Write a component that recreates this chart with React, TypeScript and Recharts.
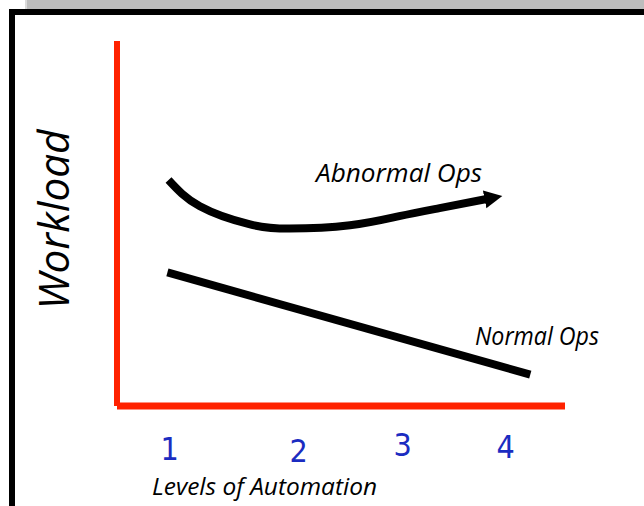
import { LineChart, Line, XAxis, YAxis } from "recharts";

// automation level (x) vs workload (y, 0-10)
const abnormalLevel = [0.99, 1.27, 1.71, 2.07, 2.61, 3.05, 3.41, 3.83];
const abnormalLoad = [6.19, 5.47, 4.98, 4.86, 4.95, 5.2, 5.42, 5.67];
const normalLevel = [0.98, 4.22];
const normalLoad = [3.66, 0.86];
const levelTicks = [1, 2, 3, 4];
const tickLabels = ["1", "2", "3", "4"];

const abnormalData = abnormalLevel.map((level, i) => ({ level, load: abnormalLoad[i] }));
const normalData = normalLevel.map((level, i) => ({ level, load: normalLoad[i] }));

const FONT = '"Open Sans", "DejaVu Sans", sans-serif';
const DIGIT_FONT = '"Liberation Sans Narrow", "DejaVu Sans Condensed", sans-serif';
const RED = "#ff2200";
const BLUE = "#1b2cc1";

// the hand-placed numbers are not evenly spaced or aligned
const TICK_DX = [0, 17, 9, 0];
const TICK_DY = [46, 48, 42, 44];

function LevelTick(props: any) {
  const { x, y, index } = props;
  return (
    <text
      x={x + TICK_DX[index]}
      y={y + TICK_DY[index]}
      textAnchor="middle"
      fill={BLUE}
      fontFamily={DIGIT_FONT}
      fontSize={32}
    >
      {tickLabels[index]}
    </text>
  );
}

export default function App() {
  return (
    <div
      style={{
        position: "absolute",
        left: 0,
        top: 0,
        width: 644,
        height: 506,
        background: "#fff",
        overflow: "hidden",
      }}
    >
      <div style={{ position: "absolute", left: 25, top: 0, width: 619, height: 10, background: "#bdbdbd" }} />
      <div style={{ position: "absolute", left: 25, top: 0, width: 2, height: 10, background: "#dadada" }} />
      <div
        style={{
          position: "absolute",
          left: 9,
          top: 9,
          width: 700,
          height: 600,
          borderLeft: "6px solid #000",
          borderTop: "6px solid #000",
        }}
      />
      <div style={{ position: "absolute", left: 0, top: 0 }}>
        <LineChart width={644} height={506} margin={{ top: 41, right: 79, bottom: 60, left: 97 }}>
          <defs>
            <marker
              id="arrowHead"
              markerUnits="userSpaceOnUse"
              markerWidth={20}
              markerHeight={20}
              refX={2}
              refY={10}
              orient="auto"
            >
              <path d="M0,1 L18,10 L0,19 z" fill="#000" />
            </marker>
          </defs>
          <XAxis
            type="number"
            dataKey="level"
            domain={[0.53, 4.53]}
            ticks={levelTicks}
            allowDataOverflow
            height={40}
            tickLine={false}
            axisLine={{ stroke: RED, strokeWidth: 7 }}
            tick={<LevelTick />}
            label={{
              content: ({ viewBox }: any) => (
                <text
                  x={viewBox.x + 35}
                  y={495}
                  fontFamily={FONT}
                  fontStyle="italic"
                  fontSize={23}
                  textLength={225}
                  lengthAdjust="spacingAndGlyphs"
                  fill="#000"
                >
                  Levels of Automation
                </text>
              ),
            }}
          />
          <YAxis
            type="number"
            domain={[0, 10]}
            width={20}
            tick={false}
            tickLine={false}
            axisLine={{ stroke: RED, strokeWidth: 6 }}
            label={{
              content: ({ viewBox }: any) => (
                <text
                  x={69}
                  y={viewBox.y + viewBox.height / 2 - 4}
                  transform={`rotate(-90, 69, ${viewBox.y + viewBox.height / 2 - 4})`}
                  textAnchor="middle"
                  fontFamily={FONT}
                  fontStyle="italic"
                  fontSize={42}
                  textLength={180}
                  lengthAdjust="spacingAndGlyphs"
                  fill="#000"
                >
                  Workload
                </text>
              ),
            }}
          />
          <Line
            data={abnormalData}
            dataKey="load"
            type="natural"
            stroke="#000"
            strokeWidth={8}
            dot={false}
            activeDot={false}
            markerEnd="url(#arrowHead)"
            isAnimationActive={false}
          />
          <Line
            data={normalData}
            dataKey="load"
            type="linear"
            stroke="#000"
            strokeWidth={8}
            dot={false}
            activeDot={false}
            isAnimationActive={false}
          />
          <text
            x={316}
            y={182}
            fontFamily={FONT}
            fontStyle="italic"
            fontSize={25}
            textLength={166}
            lengthAdjust="spacingAndGlyphs"
            fill="#000"
          >
            Abnormal Ops
          </text>
          <text
            x={475}
            y={345}
            fontFamily={FONT}
            fontStyle="italic"
            fontSize={25}
            textLength={124}
            lengthAdjust="spacingAndGlyphs"
            fill="#000"
          >
            Normal Ops
          </text>
        </LineChart>
      </div>
    </div>
  );
}
